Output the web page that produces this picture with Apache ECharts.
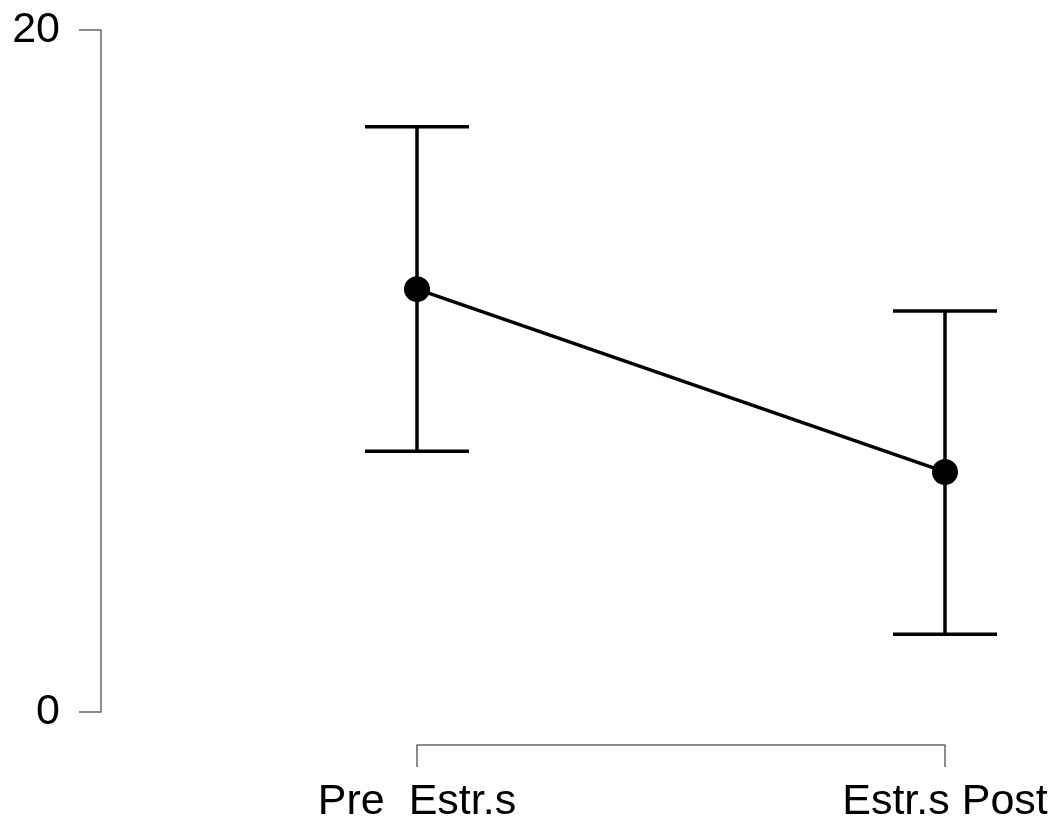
<!DOCTYPE html>
<html>
<head>
<meta charset="utf-8">
<script src="https://cdn.jsdelivr.net/npm/echarts@6/dist/echarts.min.js"></script>
<style>html,body{margin:0;padding:0;background:#fff}#c{width:1058px;height:820px}</style>
</head>
<body>
<div id="c"></div>
<script>
var categories = ['Pre  Estr.s', 'Estr.s Post'];
var xPositions = [1, 2];
var means = [12.40, 7.04];
var lower = [7.65, 2.28];
var upper = [17.16, 11.76];
var yTicks = [0, 20];

var lineData = xPositions.map(function (x, i) { return [x, means[i]]; });
var errData = xPositions.map(function (x, i) { return [x, lower[i], upper[i]]; });

var chart = echarts.init(document.getElementById('c'));
chart.setOption({
  animation: false,
  backgroundColor: '#fff',
  grid: { left: 417, right: 113, top: 30, bottom: 108, containLabel: false, outerBoundsMode: 'none' },
  xAxis: {
    type: 'value', min: 1, max: 2, interval: 1,
    offset: 33,
    splitLine: { show: false },
    axisLine: { show: true, onZero: false, lineStyle: { color: '#666', width: 1.5 } },
    axisTick: { show: true, length: 22, lineStyle: { color: '#666', width: 1.5 } },
    axisLabel: {
      margin: 36, fontSize: 43, color: '#000', fontFamily: 'Liberation Sans',
      formatter: function (v) { var i = xPositions.indexOf(v); return i >= 0 ? categories[i] : ''; }
    }
  },
  yAxis: {
    type: 'value', min: yTicks[0], max: yTicks[1], interval: yTicks[1] - yTicks[0],
    offset: 316,
    splitLine: { show: false },
    axisLine: { show: true, onZero: false, lineStyle: { color: '#666', width: 1.5 } },
    axisTick: { show: true, length: 22, lineStyle: { color: '#666', width: 1.5 } },
    axisLabel: { margin: 41, fontSize: 43, color: '#000', fontFamily: 'Liberation Sans' }
  },
  series: [
    {
      type: 'custom',
      data: errData,
      z: 2,
      renderItem: function (params, api) {
        var x = api.value(0);
        var lo = api.coord([x, api.value(1)]);
        var hi = api.coord([x, api.value(2)]);
        var hw = 52;
        var st = { stroke: '#000', lineWidth: 3.5 };
        return {
          type: 'group',
          children: [
            { type: 'line', shape: { x1: lo[0], y1: lo[1], x2: hi[0], y2: hi[1] }, style: st },
            { type: 'line', shape: { x1: lo[0] - hw, y1: lo[1], x2: lo[0] + hw, y2: lo[1] }, style: st },
            { type: 'line', shape: { x1: hi[0] - hw, y1: hi[1], x2: hi[0] + hw, y2: hi[1] }, style: st }
          ]
        };
      }
    },
    {
      type: 'line',
      data: lineData,
      z: 3,
      symbol: 'circle',
      symbolSize: 26,
      lineStyle: { color: '#000', width: 3.5 },
      itemStyle: { color: '#000' }
    }
  ]
});
</script>
</body>
</html>
